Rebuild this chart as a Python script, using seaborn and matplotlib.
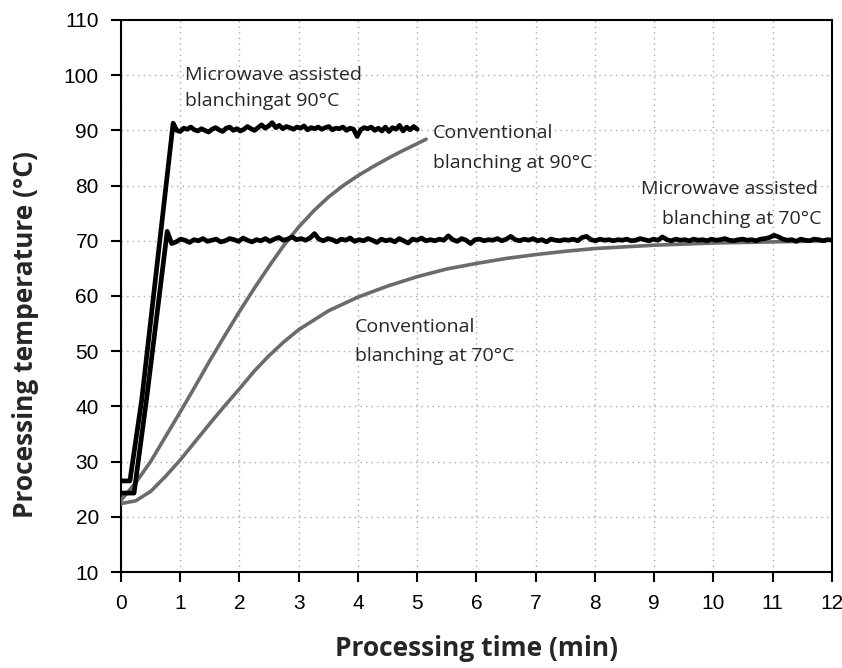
import numpy as np
import pandas as pd
import matplotlib
matplotlib.use("Agg")
import matplotlib.pyplot as plt
import seaborn as sns

# ---------------- data ----------------
# Microwave assisted blanching at 90 C: ramp then noisy plateau
mw90_ramp_t = [0.0, 0.15, 0.35, 0.88]
mw90_ramp_T = [26.5, 26.5, 41.2, 91.3]
mw90_plateau_start, mw90_plateau_end = 0.88, 5.0
mw90_plateau_T = [
    91.3, 90.0, 89.8, 90.4, 90.2, 90.6, 90.1, 89.9, 90.3, 90.0,
    89.7, 90.2, 90.5, 90.1, 89.8, 90.4, 90.6, 90.0, 90.3, 89.9,
    90.2, 90.7, 90.3, 90.0, 90.5, 91.0, 90.4, 90.8, 91.4, 90.5,
    90.9, 90.3, 90.7, 90.5, 90.2, 90.6, 90.4, 90.8, 90.1, 90.5,
    90.3, 90.6, 90.2, 90.5, 90.7, 90.1, 90.4, 90.3, 90.6, 90.0,
    90.4, 90.2, 88.9, 90.1, 90.5, 90.3, 90.6, 90.0, 90.4, 89.9,
    90.6, 89.8, 90.5, 90.2, 90.9, 89.9, 90.6, 90.1, 90.7, 90.2,
]

# Microwave assisted blanching at 70 C
mw70_ramp_t = [0.0, 0.22, 0.43, 0.78]
mw70_ramp_T = [24.3, 24.3, 41.2, 71.7]
mw70_plateau_start, mw70_plateau_end = 0.78, 12.0
mw70_plateau_T = [
    71.7, 69.5, 69.8, 70.3, 70.1, 69.7, 70.2, 70.0, 70.4, 69.9,
    70.1, 70.3, 69.8, 70.0, 70.4, 70.2, 69.9, 70.5, 70.1, 69.8,
    70.2, 70.0, 70.4, 69.9, 70.3, 70.6, 70.1, 70.3, 70.7, 70.2,
    70.4, 70.1, 70.5, 71.3, 70.3, 70.0, 70.4, 70.2, 69.8, 70.3,
    70.1, 70.5, 69.9, 70.2, 70.0, 70.4, 70.1, 69.7, 70.3, 70.0,
    70.2, 69.8, 70.4, 70.0, 69.6, 70.3, 70.1, 70.5, 70.0, 70.2,
    70.0, 70.3, 70.1, 70.9, 70.2, 69.9, 70.4, 70.1, 69.5, 70.2,
    70.3, 70.0, 70.2, 70.1, 70.4, 70.0, 70.3, 70.8, 70.2, 70.0,
    70.3, 70.1, 70.4, 70.0, 70.2, 69.8, 70.3, 70.1, 70.0, 70.2,
    70.1, 70.3, 70.0, 70.6, 70.8, 70.2, 70.0, 70.3, 70.1, 70.2,
    70.0, 70.2, 70.1, 70.3, 70.0, 70.1, 70.4, 70.2, 70.0, 70.3,
    70.1, 70.7, 70.2, 70.0, 70.3, 70.1, 70.2, 70.0, 70.3, 70.1,
    70.2, 70.0, 70.3, 70.1, 70.2, 70.4, 70.1, 70.0, 70.2, 70.3,
    70.1, 70.2, 70.0, 70.3, 70.4, 70.6, 71.0, 70.7, 70.3, 70.1,
    70.2, 69.9, 70.3, 70.1, 70.0, 70.3, 70.2, 70.0, 70.2, 70.1,
]

# Conventional blanching at 90 C
conv90_t = [0, 0.25, 0.5, 0.75, 1.0, 1.25, 1.5, 1.75, 2.0, 2.25, 2.5,
            2.75, 3.0, 3.25, 3.5, 3.75, 4.0, 4.25, 4.5, 4.75, 5.0, 5.15]
conv90_T = [23.0, 26.2, 30.0, 34.5, 39.0, 43.6, 48.3, 52.8, 57.2, 61.4, 65.4,
            69.2, 72.5, 75.4, 77.9, 80.0, 81.8, 83.4, 84.9, 86.3, 87.6, 88.4]

# Conventional blanching at 70 C
conv70_t = [0, 0.25, 0.5, 0.75, 1.0, 1.25, 1.5, 1.75, 2.0, 2.25, 2.5, 2.75,
            3.0, 3.5, 4.0, 4.5, 5.0, 5.5, 6.0, 6.5, 7.0, 7.5, 8.0, 8.5,
            9.0, 9.5, 10.0, 10.5, 11.0, 11.5, 11.9]
conv70_T = [22.4, 22.9, 24.6, 27.3, 30.3, 33.6, 36.9, 40.1, 43.2, 46.4, 49.2, 51.7,
            53.9, 57.3, 59.8, 61.8, 63.5, 64.9, 65.9, 66.8, 67.5, 68.1, 68.6, 68.9,
            69.2, 69.4, 69.6, 69.7, 69.8, 69.9, 70.0]

x_ticks = list(range(0, 13))
y_ticks = list(range(10, 111, 10))

# ---------------- build series ----------------
def build(ramp_t, ramp_T, p_start, p_end, p_vals):
    pt = np.linspace(p_start, p_end, len(p_vals))
    t = np.concatenate([np.array(ramp_t[:-1]), pt])
    T = np.concatenate([np.array(ramp_T[:-1]), np.array(p_vals)])
    return t, T

mw90_t, mw90_T = build(mw90_ramp_t, mw90_ramp_T, mw90_plateau_start, mw90_plateau_end, mw90_plateau_T)
mw70_t, mw70_T = build(mw70_ramp_t, mw70_ramp_T, mw70_plateau_start, mw70_plateau_end, mw70_plateau_T)

# ---------------- figure ----------------
sns.set_style("ticks")
plt.rcParams["font.family"] = ["Liberation Sans", "DejaVu Sans"]

fig = plt.figure(figsize=(8.42, 6.68), dpi=100)
ax = fig.add_axes([0.1437, 0.1437, 0.8444, 0.8264])

gray = "#6b6b6b"
sns.lineplot(x=conv90_t, y=conv90_T, ax=ax, color=gray, linewidth=2.6, sort=False, zorder=3)
sns.lineplot(x=conv70_t, y=conv70_T, ax=ax, color=gray, linewidth=2.6, sort=False, zorder=3)
sns.lineplot(x=mw70_t, y=mw70_T, ax=ax, color="black", linewidth=3.4, sort=False, zorder=4)
sns.lineplot(x=mw90_t, y=mw90_T, ax=ax, color="black", linewidth=3.4, sort=False, zorder=4)

ax.set_xlim(0, 12)
ax.set_ylim(10, 110)
ax.set_xticks(x_ticks)
ax.set_yticks(y_ticks)
ax.grid(True, linestyle=(0, (1, 3)), color="#a8a8a8", linewidth=1.0, zorder=0)

for s in ax.spines.values():
    s.set_visible(True)
    s.set_linewidth(1.5)
    s.set_color("black")

ax.tick_params(axis="both", direction="out", length=7, width=1.5, labelsize=15,
               colors="black")
ax.tick_params(axis="y", pad=9)
ax.tick_params(axis="x", pad=9)

lab_font = ["Open Sans", "DejaVu Sans"]
ax.set_xlabel("Processing time (min)", fontsize=19, fontweight="bold",
              family=lab_font)
ax.set_ylabel("Processing temperature (\u00b0C)", fontsize=19, fontweight="bold",
              family=lab_font)
ax.xaxis.set_label_coords(0.5, -0.115)
ax.yaxis.set_label_coords(-0.115, 0.43)

ann_font = ["Open Sans", "DejaVu Sans"]
afs = 14
ax.text(1.08, 100.0, "Microwave assisted", fontsize=afs, family=ann_font, va="center", ha="left")
ax.text(1.08, 95.3, "blanchingat 90\u00b0C", fontsize=afs, family=ann_font, va="center", ha="left")
ax.text(5.27, 89.5, "Conventional", fontsize=afs, family=ann_font, va="center", ha="left")
ax.text(5.27, 84.1, "blanching at 90\u00b0C", fontsize=afs, family=ann_font, va="center", ha="left")
ax.text(11.76, 79.4, "Microwave assisted", fontsize=afs, family=ann_font, va="center", ha="right")
ax.text(11.83, 73.9, "blanching at 70\u00b0C", fontsize=afs, family=ann_font, va="center", ha="right")
ax.text(3.95, 54.4, "Conventional", fontsize=afs, family=ann_font, va="center", ha="left")
ax.text(3.95, 49.1, "blanching at 70\u00b0C", fontsize=afs, family=ann_font, va="center", ha="left")

fig.savefig("out.png", dpi=100)
